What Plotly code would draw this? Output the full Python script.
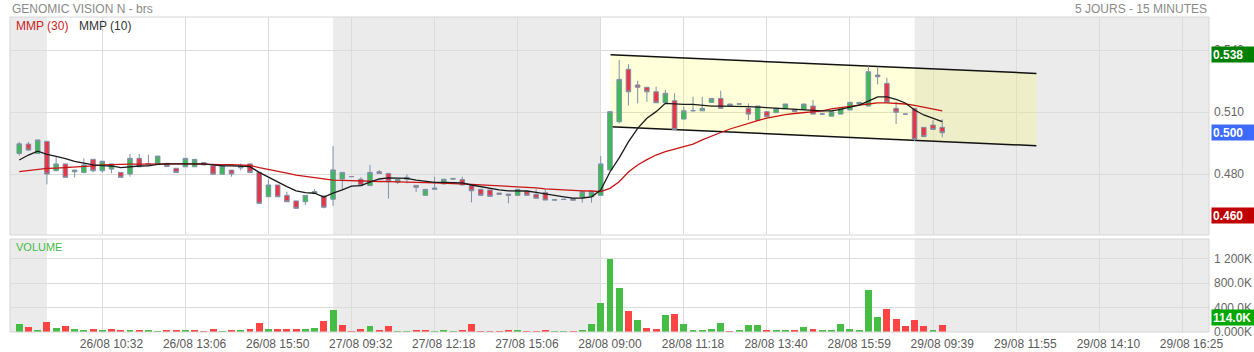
import plotly.graph_objects as go

# ---------------- data (15-minute candles, index = candle number) ----------------
opens = [0.4900,0.4945,0.4900,0.4958,0.4816,0.4849,0.4811,0.4807,0.4871,0.4816,
         0.4824,0.4808,0.4800,0.4876,0.4845,0.4849,0.4852,0.4828,0.4835,0.4835,
         0.4855,0.4840,0.4799,0.4819,0.4830,0.4849,0.4808,0.4690,0.4747,0.4697,
         0.4670,0.4666,0.4707,0.4694,0.4678,0.4776,0.4787,0.4775,0.4744,0.4811,
         0.4803,0.4760,0.4775,0.4745,0.4697,0.4726,0.4752,0.4779,0.4773,0.4745,
         0.4726,0.4723,0.4708,0.4703,0.4697,0.4715,0.4702,0.4710,0.4674,0.4678,
         0.4681,0.4688,0.4690,0.4697,0.4820,0.5053,0.5307,0.5231,0.5220,0.5198,
         0.5145,0.5155,0.5066,0.5106,0.5106,0.5147,0.5166,0.5131,0.5139,0.5118,
         0.5060,0.5102,0.5097,0.5118,0.5113,0.5113,0.5129,0.5090,0.5080,0.5090,
         0.5110,0.5139,0.5129,0.5279,0.5239,0.5118,0.5090,0.5118,0.5026,0.5037,
         0.5026]
highs = [0.4956,0.4956,0.4965,0.4958,0.4887,0.4849,0.4819,0.4876,0.4871,0.4862,
         0.4849,0.4808,0.4897,0.4897,0.4894,0.4887,0.4852,0.4828,0.4876,0.4871,
         0.4855,0.4840,0.4840,0.4819,0.4851,0.4849,0.4808,0.4775,0.4747,0.4715,
         0.4670,0.4697,0.4728,0.4694,0.4936,0.4808,0.4790,0.4784,0.4844,0.4820,
         0.4803,0.4775,0.4799,0.4745,0.4726,0.4787,0.4775,0.4779,0.4787,0.4745,
         0.4726,0.4723,0.4708,0.4703,0.4726,0.4715,0.4726,0.4726,0.4676,0.4680,
         0.4681,0.4715,0.4715,0.4887,0.5102,0.5352,0.5332,0.5252,0.5220,0.5223,
         0.5207,0.5191,0.5126,0.5174,0.5174,0.5166,0.5203,0.5139,0.5142,0.5142,
         0.5129,0.5102,0.5118,0.5139,0.5113,0.5139,0.5158,0.5096,0.5102,0.5118,
         0.5147,0.5147,0.5323,0.5319,0.5266,0.5150,0.5091,0.5118,0.5026,0.5061,
         0.5065]
lows = [0.4889,0.4913,0.4900,0.4750,0.4816,0.4784,0.4784,0.4807,0.4808,0.4807,
        0.4804,0.4784,0.4787,0.4835,0.4845,0.4849,0.4836,0.4807,0.4835,0.4835,
        0.4844,0.4799,0.4799,0.4787,0.4818,0.4807,0.4658,0.4690,0.4690,0.4666,
        0.4634,0.4650,0.4707,0.4634,0.4645,0.4723,0.4787,0.4744,0.4744,0.4803,
        0.4681,0.4752,0.4755,0.4713,0.4697,0.4726,0.4752,0.4771,0.4747,0.4663,
        0.4697,0.4692,0.4702,0.4658,0.4697,0.4697,0.4683,0.4674,0.4674,0.4674,
        0.4673,0.4661,0.4661,0.4697,0.4820,0.5045,0.5131,0.5142,0.5150,0.5145,
        0.5145,0.5016,0.5066,0.5102,0.5106,0.5147,0.5118,0.5131,0.5136,0.5061,
        0.5060,0.5077,0.5097,0.5118,0.5102,0.5113,0.5090,0.5086,0.5080,0.5090,
        0.5110,0.5139,0.5129,0.5234,0.5147,0.5042,0.5089,0.4960,0.4981,0.5016,
        0.4978]
closes = [0.4946,0.4916,0.4965,0.4800,0.4849,0.4784,0.4819,0.4844,0.4816,0.4862,
          0.4849,0.4784,0.4876,0.4835,0.4850,0.4887,0.4836,0.4807,0.4876,0.4871,
          0.4844,0.4799,0.4840,0.4800,0.4839,0.4807,0.4658,0.4747,0.4690,0.4666,
          0.4634,0.4697,0.4715,0.4639,0.4820,0.4808,0.4788,0.4744,0.4808,0.4803,
          0.4763,0.4775,0.4784,0.4736,0.4726,0.4732,0.4775,0.4776,0.4747,0.4719,
          0.4697,0.4692,0.4702,0.4697,0.4726,0.4697,0.4683,0.4674,0.4675,0.4677,
          0.4673,0.4715,0.4715,0.4849,0.5102,0.5258,0.5198,0.5220,0.5198,0.5145,
          0.5191,0.5016,0.5106,0.5107,0.5118,0.5166,0.5118,0.5139,0.5139,0.5090,
          0.5129,0.5077,0.5118,0.5139,0.5102,0.5139,0.5090,0.5091,0.5102,0.5118,
          0.5147,0.5147,0.5295,0.5271,0.5147,0.5099,0.5090,0.4968,0.4981,0.5016,
          0.5000]

# moving averages
mmp10 = [0.4868,0.4892,0.4911,0.4895,0.4885,0.4875,0.4861,0.4851,0.4844,0.4841,
         0.4839,0.4831,0.4836,0.4839,0.4840,0.4847,0.4849,0.4849,0.4852,0.4852,
         0.4849,0.4844,0.4840,0.4840,0.4839,0.4836,0.4808,0.4784,0.4763,0.4739,
         0.4719,0.4710,0.4707,0.4689,0.4708,0.4723,0.4742,0.4744,0.4761,0.4776,
         0.4781,0.4781,0.4779,0.4771,0.4764,0.4760,0.4760,0.4760,0.4757,0.4747,
         0.4739,0.4728,0.4723,0.4719,0.4718,0.4718,0.4711,0.4703,0.4696,0.4690,
         0.4683,0.4684,0.4690,0.4723,0.4810,0.4878,0.4956,0.5021,0.5070,0.5102,
         0.5142,0.5139,0.5137,0.5137,0.5133,0.5129,0.5129,0.5129,0.5126,0.5126,
         0.5124,0.5121,0.5121,0.5118,0.5113,0.5110,0.5106,0.5106,0.5106,0.5113,
         0.5124,0.5134,0.5153,0.5173,0.5173,0.5161,0.5144,0.5110,0.5086,0.5069,
         0.5054]
mmp30 = [0.4812,0.4818,0.4823,0.4827,0.4829,0.4831,0.4833,0.4837,0.4840,0.4844,
         0.4846,0.4847,0.4848,0.4848,0.4849,0.4849,0.4849,0.4849,0.4849,0.4849,
         0.4848,0.4847,0.4846,0.4845,0.4844,0.4842,0.4831,0.4821,0.4811,0.4804,
         0.4795,0.4789,0.4782,0.4776,0.4771,0.4769,0.4767,0.4766,0.4765,0.4764,
         0.4763,0.4761,0.4761,0.4759,0.4758,0.4757,0.4756,0.4755,0.4753,0.4750,
         0.4748,0.4746,0.4743,0.4741,0.4739,0.4736,0.4733,0.4728,0.4725,0.4723,
         0.4721,0.4719,0.4718,0.4715,0.4731,0.4763,0.4810,0.4844,0.4870,0.4892,
         0.4908,0.4921,0.4931,0.4945,0.4965,0.4984,0.5001,0.5018,0.5032,0.5047,
         0.5059,0.5071,0.5081,0.5088,0.5093,0.5098,0.5103,0.5106,0.5115,0.5122,
         0.5128,0.5134,0.5139,0.5144,0.5144,0.5142,0.5139,0.5132,0.5124,0.5115,
         0.5106]

# volume in thousands, and its colour (g = up vs previous close, r = down)
volume_k = [127,77,28,171,61,94,55,33,44,28,
            44,39,33,39,17,6,28,28,17,17,
            11,55,6,28,28,44,154,50,55,44,
            44,44,72,182,353,110,11,44,94,28,
            105,6,6,33,22,11,22,6,22,138,
            11,6,6,22,39,11,11,39,11,11,
            11,39,138,474,1203,717,342,193,61,44,
            276,292,138,28,28,44,143,11,28,121,
            110,28,28,17,28,83,50,28,28,127,
            55,39,690,248,375,221,94,204,99,28,
            114]
volume_dir = list("grgrgrggrg" "rrgrggrrgr" "rrgrgrrgrr"
                  "rggrgrrrgr" "rggrrgggrr" "rrrrgrrrgg"
                  "rgggggrgrr" "grgggggrgg" "grggrgrggg"
                  "ggggrrrrrg" "r")

# x-axis labels (every 9th candle, starting at candle 10)
tick_labels = ["26/08 10:32", "26/08 13:06", "26/08 15:50", "27/08 09:32",
               "27/08 12:18", "27/08 15:06", "28/08 09:00", "28/08 11:18",
               "28/08 13:40", "28/08 15:59", "29/08 09:39", "29/08 11:55",
               "29/08 14:10", "29/08 16:25"]
first_label_candle = 10
candles_per_grid = 9

# shaded (alternate-day) periods, in candle units
shaded_periods = [(-1.0, 3.0), (34.0, 63.0), (97.0, 128.9)]

# drawn trend channel (candle index, price)
channel_x = [64.07, 110.2]
channel_top = [0.5377, 0.5287]
channel_bottom = [0.5029, 0.4937]

# price tags on the right axis
tag_high, tag_last, tag_low = 0.538, 0.500, 0.460
vol_last_label = "114.0K"

price_ticks = [0.480, 0.510, 0.540]
vol_ticks = [0, 400, 800, 1200]
vol_tick_text = ["0.000K", "400.0K", "800.0K", "1 200K"]

# ---------------- figure ----------------
n = len(closes)
idx = list(range(n))
FONT = "Arial, 'Liberation Sans', sans-serif"
GREEN = "#3cbb55"
RED = "#ee3344"
WICK = "#7f91a8"
GRID = "#dcdcdc"

if len(volume_dir) < n:
    volume_dir = volume_dir + ["g"] * (n - len(volume_dir))
volume_dir = volume_dir[:n]

fig = go.Figure()
fig.add_trace(go.Candlestick(
    x=idx, open=opens, high=highs, low=lows, close=closes,
    increasing=dict(line=dict(color=WICK, width=1), fillcolor=GREEN),
    decreasing=dict(line=dict(color=WICK, width=1), fillcolor=RED),
    whiskerwidth=0, xaxis="x", yaxis="y", showlegend=False, hoverinfo="skip"))
fig.add_trace(go.Scatter(x=idx, y=mmp30, mode="lines", line=dict(color="#c81414", width=1.3),
                         xaxis="x", yaxis="y", showlegend=False, hoverinfo="skip"))
fig.add_trace(go.Scatter(x=idx, y=mmp10, mode="lines", line=dict(color="#1a1a1a", width=1.3),
                         xaxis="x", yaxis="y", showlegend=False, hoverinfo="skip"))
fig.add_trace(go.Bar(
    x=idx, y=volume_k, width=0.75,
    marker=dict(color=["#3dbb3d" if d == "g" else "#ff3b3b" for d in volume_dir], line=dict(width=0)),
    opacity=0.95, xaxis="x", yaxis="y2", showlegend=False, hoverinfo="skip"))

shapes = []
for (a, b) in shaded_periods:
    for yr in ("y domain", "y2 domain"):
        shapes.append(dict(type="rect", xref="x", yref=yr, x0=a, x1=b, y0=0, y1=1,
                           fillcolor="#ebebeb", line=dict(width=0), layer="below"))
path = (f"M {channel_x[0]},{channel_top[0]} L {channel_x[1]},{channel_top[1]} "
        f"L {channel_x[1]},{channel_bottom[1]} L {channel_x[0]},{channel_bottom[0]} Z")
shapes.append(dict(type="path", xref="x", yref="y", path=path,
                   fillcolor="rgba(255,255,0,0.15)", line=dict(width=0), layer="between"))
for ys in (channel_top, channel_bottom):
    shapes.append(dict(type="line", xref="x", yref="y", x0=channel_x[0], x1=channel_x[1],
                       y0=ys[0], y1=ys[1], line=dict(color="#111111", width=1.5), layer="between"))
for yr in ("y domain", "y2 domain"):
    shapes.append(dict(type="rect", xref="x domain", yref=yr, x0=0, x1=1, y0=0, y1=1,
                       line=dict(color="#d6d6d6", width=1), layer="above"))

# pixel helpers for layout text placement
W, H = 1254, 352
ML, MR, MT, MB = 10, 45, 17, 20
PW, PH = W - ML - MR, H - MT - MB
def px(x): return (x - ML) / PW
def py(y): return (H - MB - y) / PH

ann = []
ann.append(dict(text="GENOMIC VISION N - brs", x=px(10), y=py(9), xref="paper", yref="paper",
                xanchor="left", yanchor="middle", showarrow=False, font=dict(size=12, color="#8a8a8a")))
ann.append(dict(text="5 JOURS - 15 MINUTES", x=px(1209), y=py(9), xref="paper", yref="paper",
                xanchor="right", yanchor="middle", showarrow=False, font=dict(size=12, color="#8a8a8a")))
ann.append(dict(text="MMP (30)", x=px(14), y=py(26), xref="paper", yref="paper",
                xanchor="left", yanchor="middle", showarrow=False, font=dict(size=12, color="#cc2222")))
ann.append(dict(text="MMP (10)", x=px(77), y=py(26), xref="paper", yref="paper",
                xanchor="left", yanchor="middle", showarrow=False, font=dict(size=12, color="#333333")))
ann.append(dict(text="VOLUME", x=px(14), y=py(247), xref="paper", yref="paper",
                xanchor="left", yanchor="middle", showarrow=False, font=dict(size=11, color="#44bb44")))
for val, col in ((tag_high, "#008000"), (tag_last, "#3d6bff"), (tag_low, "#c00000")):
    ann.append(dict(text=f"<b>{val:.3f}</b>", x=px(1211), y=val, xref="paper", yref="y",
                    xanchor="left", yanchor="middle", showarrow=False, align="left",
                    width=40, height=13, bgcolor=col, borderpad=1,
                    font=dict(size=12, color="white")))
ann.append(dict(text=f"<b>{vol_last_label}</b>", x=px(1211), y=py(317.5), xref="paper", yref="paper",
                xanchor="left", yanchor="middle", showarrow=False, align="left",
                width=40, height=13, bgcolor="#00a800", borderpad=1,
                font=dict(size=12, color="white")))

label_pos = [first_label_candle + candles_per_grid * k for k in range(len(tick_labels))]
grid_pos = [p - 1 for p in label_pos]

dom_price = [py(235), 1]
dom_vol = [0, py(239)]

fig.update_layout(
    width=W, height=H, margin=dict(l=ML, r=MR, t=MT, b=MB, autoexpand=False),
    paper_bgcolor="white", plot_bgcolor="white",
    font=dict(family=FONT, size=12, color="#666666"),
    shapes=shapes, annotations=ann, showlegend=False, bargap=0,
    xaxis=dict(range=[-1.0, 128.9], anchor="y2", tickvals=label_pos, ticktext=tick_labels,
               showgrid=False, zeroline=False, showline=False, ticks="", ticklen=0,
               tickfont=dict(size=12, color="#5a5a5a"), ticklabelstandoff=3, automargin=False,
               minor=dict(tickvals=grid_pos, showgrid=True, gridcolor=GRID, gridwidth=1, ticks=""),
               rangeslider=dict(visible=False), fixedrange=True),
    yaxis=dict(domain=dom_price, range=[0.4505, 0.556], side="right", anchor="x",
               tickvals=price_ticks, ticktext=[f"{v:.3f}" for v in price_ticks], automargin=False,
               showgrid=True, gridcolor=GRID, zeroline=False, showline=False, ticks="",
               tickfont=dict(size=12, color="#666666"), ticklabelstandoff=4),
    yaxis2=dict(domain=dom_vol, range=[0, 1525], side="right", anchor="x",
                tickvals=vol_ticks, ticktext=vol_tick_text, automargin=False,
                showgrid=True, gridcolor=GRID, zeroline=False, showline=False, ticks="",
                tickfont=dict(size=12, color="#666666"), ticklabelstandoff=4),
)

fig.write_html("out.html")
